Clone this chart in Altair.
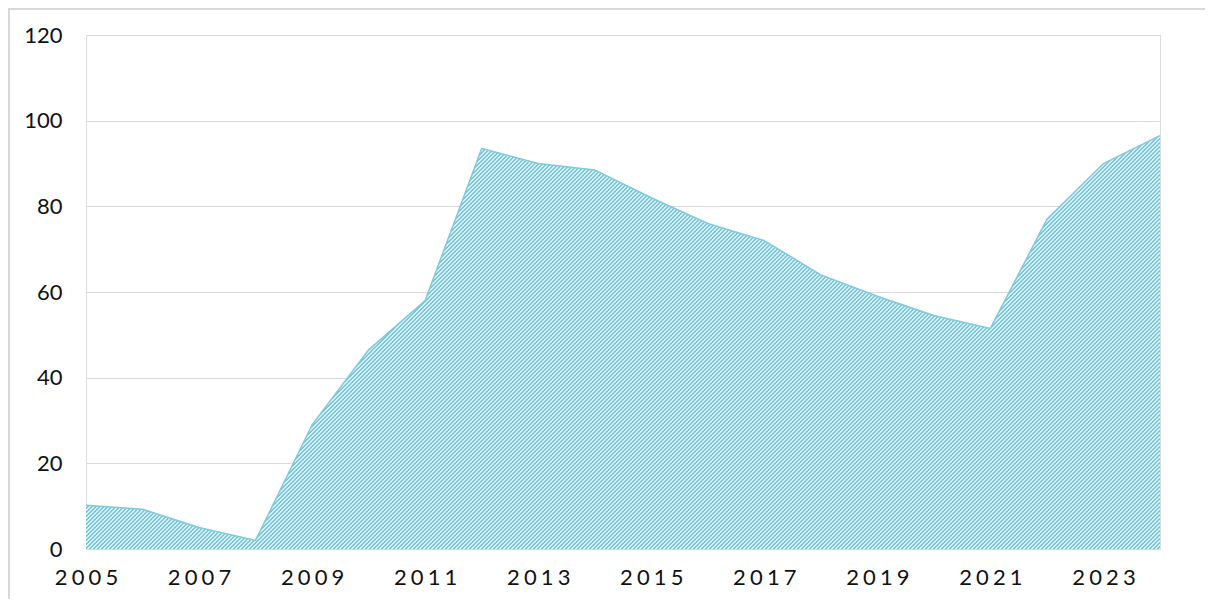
import altair as alt
import pandas as pd

years = list(range(2005, 2025))
values = [10.2, 9.3, 5.0, 2.0, 29.0, 46.5, 58.0, 93.5, 90.0, 88.5, 82.0, 76.0, 72.0,
          64.0, 59.0, 54.5, 51.5, 77.0, 90.0, 96.5]
x_ticks = [2005, 2007, 2009, 2011, 2013, 2015, 2017, 2019, 2021, 2023]
y_ticks = [0, 20, 40, 60, 80, 100, 120]

df = pd.DataFrame({"year": years, "value": values})

PLOT_W, PLOT_H = 1074, 514
Y_MAX = 120

# diagonal hatch fill ("/" stripes) built as a repeating linear gradient
bbox_h = max(values) / Y_MAX * PLOT_H
ratio = bbox_h / PLOT_W
s = (1 + ratio) / (1 + ratio ** 2)
gx2, gy2 = s, s * ratio
perp_len = (PLOT_W + bbox_h) / 2 ** 0.5
n_periods = int(round(perp_len / (4 / 2 ** 0.5)))
dark, light = "#7cc6db", "#d6f0f6"
stops = []
for i in range(n_periods):
    a = round(i / n_periods, 7)
    m = round((i + 0.5) / n_periods, 7)
    b = round((i + 1) / n_periods, 7)
    stops += [alt.GradientStop(offset=a, color=dark), alt.GradientStop(offset=m, color=dark),
              alt.GradientStop(offset=m, color=light), alt.GradientStop(offset=b, color=light)]
hatch = alt.Gradient(gradient="linear", stops=stops, x1=0, y1=0, x2=gx2, y2=gy2)

x_enc = alt.X("year:Q", scale=alt.Scale(domain=[2005, 2024], nice=False, zero=False),
              axis=alt.Axis(values=x_ticks, format="d", title=None, grid=False, domain=False,
                            ticks=False, tickSize=0, labelPadding=18, labelFlush=False,
                            labelExpr="join(split(datum.label, ''), '\u2009\u200a')",
                            labelFontSize=22, labelColor="#111111", labelFont="Lato"))
y_enc = alt.Y("value:Q", scale=alt.Scale(domain=[0, Y_MAX], nice=False),
              axis=alt.Axis(values=y_ticks, title=None, domain=False, ticks=False, tickSize=0,
                            labelPadding=24, gridColor="#d9d9d9", gridWidth=1.2,
                            labelFontSize=22, labelColor="#111111", labelFont="Lato"))

area = alt.Chart(df).mark_area(color=hatch, opacity=1).encode(x=x_enc, y=y_enc)
edge = alt.Chart(df).mark_line(color="#80c9de", strokeWidth=1.5).encode(x="year:Q", y="value:Q")

border = alt.Chart(pd.DataFrame({"k": [0]})).mark_rect(
    fill=None, stroke="#d9d9d9", strokeWidth=2, clip=False
).encode(x=alt.value(-77), x2=alt.value(1500), y=alt.value(-26), y2=alt.value(900))

chart = alt.layer(area, edge, border).properties(
    width=PLOT_W, height=PLOT_H,
    autosize=alt.AutoSizeParams(type="none"),
    padding={"left": 78, "top": 27, "right": 45, "bottom": 50},
).configure_view(stroke=None).configure(background="white")

chart.save("out.html", embed_options={"renderer": "svg", "actions": False})
